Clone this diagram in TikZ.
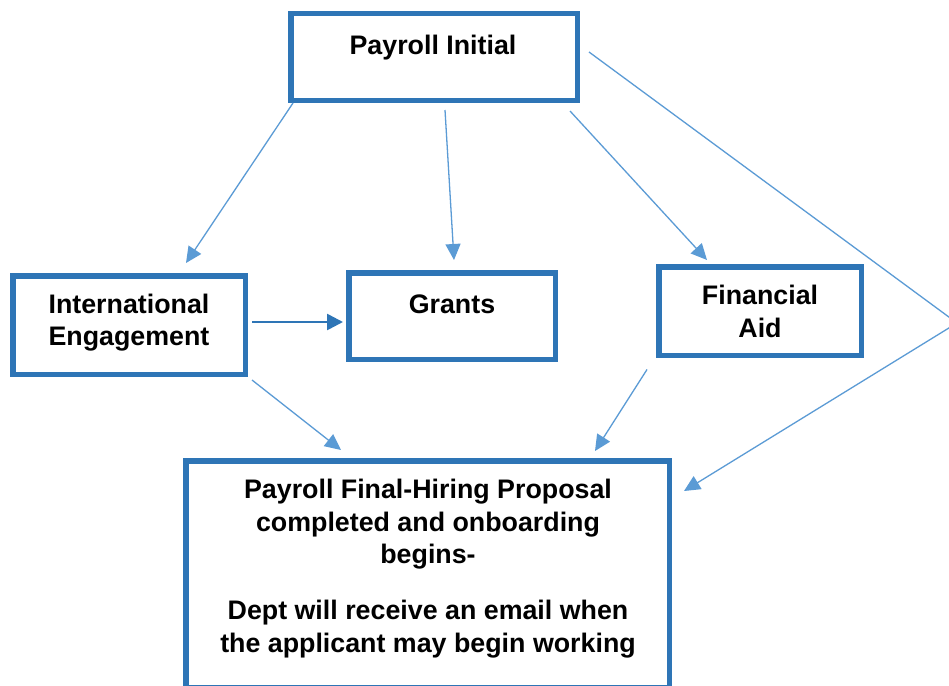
\documentclass[tikz,border=0pt]{standalone}
\usepackage{fontspec}
\setmainfont{Liberation Sans}
\usetikzlibrary{arrows.meta,calc}
\definecolor{boxblue}{HTML}{2E75B6}
\definecolor{arrblue}{HTML}{5B9BD5}
\tikzset{
  box/.style={draw=boxblue, line width=5.5pt, fill=white, rectangle, inner sep=0pt, outer sep=0pt},
  txt/.style={font=\fontsize{26.8}{32.5}\selectfont\bfseries, align=center, inner sep=0pt, text=black},
  thinarrow/.style={draw=arrblue, line width=1.3pt, -{Triangle[length=16pt,width=15pt]}},
  thickarrow/.style={draw=boxblue, line width=2.6pt, -{Triangle[length=16pt,width=16pt]}}
}
\begin{document}
\begin{tikzpicture}[x=1pt,y=-1pt]
\useasboundingbox (0,0) rectangle (949,685);
\fill[white] (0,0) rectangle (949,685);
\clip (0,0) rectangle (949,685);

% boxes
\node[box, minimum width=286.5pt, minimum height=86.5pt] (pi) at (434,57) {};
\node[box, minimum width=232.5pt, minimum height=98.5pt] (ie) at (129,325) {};
\node[box, minimum width=206.5pt, minimum height=86.5pt] (gr) at (452,316) {};
\node[box, minimum width=202.5pt, minimum height=88.5pt] (fa) at (760,311) {};
\node[box, minimum width=483.5pt, minimum height=226.5pt] (fin) at (427.5,574) {};

% texts
\node[txt] (pit) at (433,47.3) {Payroll Initial};
\node[txt] (iet) at (129,322.5) {International\\Engagement};
\node[txt] (grt) at (452,304) {Grants};
\node[txt] (fat) at (760,311.5) {Financial\\Aid};
\node[txt] (fint) at (428,568.8) {Payroll Final-Hiring Proposal\\completed and onboarding\\begins-\\[23.5pt]Dept will receive an email when\\the applicant may begin working};

% connectors
\draw[thinarrow] ($(pi.south west)+(2.25,2.75)$) -- ($(ie.north)+(57,-12.75)$);
\draw[thinarrow] ($(pi.south)+(11,9.75)$) -- ($(gr.north)+(2,-12.75)$);
\draw[thinarrow] ($(pi.south east)+(-7.25,10.75)$) -- ($(fa.north)+(-53,-6.75)$);
\coordinate (apex) at (957,323);
\draw[thinarrow] ($(pi.east)+(11.75,-5)$) -- (apex) -- ($(fin.north east)+(14.75,30.25)$);
\draw[thickarrow] ($(ie.east)+(6.75,-3)$) -- ($(gr.west)+(-5.75,6)$);
\draw[thinarrow] ($(ie.south east)+(6.75,5.75)$) -- ($(fin.north west)+(155.25,-10.75)$);
\draw[thinarrow] ($(fa.south west)+(-11.75,14.25)$) -- ($(fin.north)+(167.5,-9.75)$);
\end{tikzpicture}
\end{document}
